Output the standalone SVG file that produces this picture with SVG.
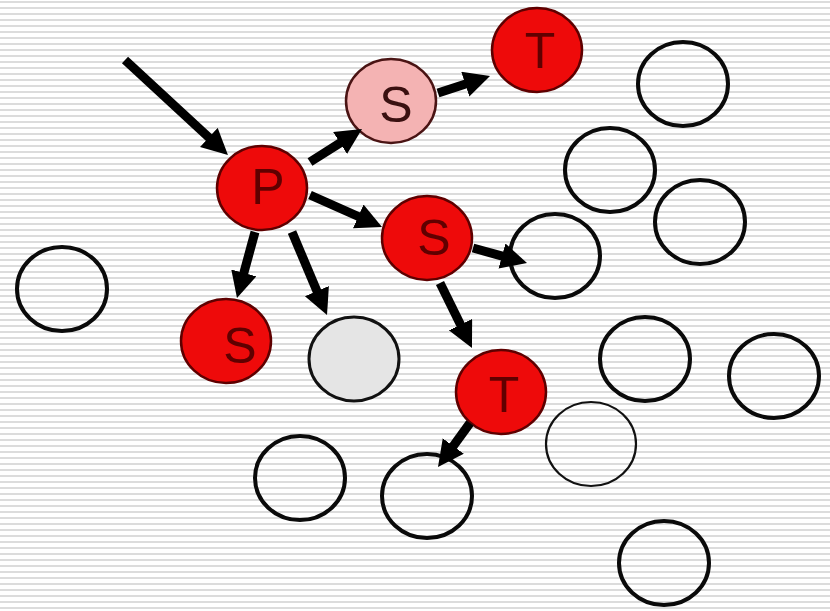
<svg xmlns="http://www.w3.org/2000/svg" width="830" height="611" viewBox="0 0 830 611">
  <style>
    .red { fill: #ee0a0a; stroke: #5e0000; stroke-width: 2.5; }
    .pink { fill: #f4b3b3; stroke: #4a1414; stroke-width: 2.5; }
    .grey { fill: #e5e5e5; stroke: #111; stroke-width: 3; }
    .empty { fill: none; stroke: #0a0a0a; stroke-width: 4; }
    .thin { fill: none; stroke: #111; stroke-width: 2.2; }
    .lbl { font-family: "Liberation Sans", Arial, sans-serif; font-size: 50px; text-anchor: middle; }
    .lbl-red { fill: #600000; }
    .lbl-pink { fill: #3a1010; }
    .edge { stroke: #000; stroke-width: 9; fill: none; marker-end: url(#head); }
  </style>
  <defs>
    <pattern id="stripes" width="830" height="6" patternUnits="userSpaceOnUse">
      <rect width="830" height="6" fill="#ffffff"/>
      <rect y="1" width="830" height="2" fill="#dcdcdc"/>
    </pattern>
    <marker id="head" markerUnits="userSpaceOnUse" markerWidth="28" markerHeight="28" refX="10" refY="13" orient="auto">
      <path d="M0,0 L26,13 L0,26 Z" fill="#000"/>
    </marker>
  </defs>

  <!-- striped backdrop -->
  <rect width="830" height="611" fill="url(#stripes)"/>

  <!-- unvisited vertices -->
  <g id="n-left"><ellipse class="empty" cx="62" cy="289" rx="45" ry="42"/></g>
  <g id="n-topright"><ellipse class="empty" cx="683" cy="84" rx="45" ry="42"/></g>
  <g id="n-r1"><ellipse class="empty" cx="610" cy="170" rx="45" ry="42"/></g>
  <g id="n-r2"><ellipse class="empty" cx="700" cy="222" rx="45" ry="42"/></g>
  <g id="n-mid"><ellipse class="empty" cx="555" cy="256" rx="45" ry="42"/></g>
  <g id="n-r3"><ellipse class="empty" cx="645" cy="359" rx="45" ry="42"/></g>
  <g id="n-r4"><ellipse class="empty" cx="774" cy="376" rx="45" ry="42"/></g>
  <g id="n-faint"><ellipse class="thin" cx="591" cy="444" rx="45" ry="42"/></g>
  <g id="n-b1"><ellipse class="empty" cx="300" cy="478" rx="45" ry="42"/></g>
  <g id="n-b2"><ellipse class="empty" cx="427" cy="496" rx="45" ry="42"/></g>
  <g id="n-b3"><ellipse class="empty" cx="664" cy="563" rx="45" ry="42"/></g>

  <!-- visited vertices -->
  <g id="n-grey"><ellipse class="grey" cx="354" cy="359" rx="45" ry="42"/></g>
  <g id="n-p">
    <ellipse class="red" cx="262" cy="188" rx="45" ry="42"/>
    <text class="lbl lbl-red" x="268" y="204">P</text>
  </g>
  <g id="n-s-pink">
    <ellipse class="pink" cx="391" cy="101" rx="45" ry="42"/>
    <text class="lbl lbl-pink" x="396" y="122">S</text>
  </g>
  <g id="n-t-top">
    <ellipse class="red" cx="537" cy="50" rx="45" ry="42"/>
    <text class="lbl lbl-red" x="540" y="68">T</text>
  </g>
  <g id="n-s-mid">
    <ellipse class="red" cx="427" cy="238" rx="45" ry="42"/>
    <text class="lbl lbl-red" x="434" y="255">S</text>
  </g>
  <g id="n-s-low">
    <ellipse class="red" cx="226" cy="341" rx="45" ry="42"/>
    <text class="lbl lbl-red" x="240" y="363">S</text>
  </g>
  <g id="n-t-mid">
    <ellipse class="red" cx="501" cy="392" rx="45" ry="42"/>
    <text class="lbl lbl-red" x="504" y="412">T</text>
  </g>

  <!-- connectors -->
  <g id="edges">
    <line class="edge" x1="125" y1="60" x2="216.2" y2="144.2"/>
    <line class="edge" x1="310" y1="162" x2="348.5" y2="137.6"/>
    <line class="edge" x1="438" y1="93" x2="474.8" y2="81"/>
    <line class="edge" x1="310" y1="195" x2="367.4" y2="220.5"/>
    <line class="edge" x1="255" y1="232" x2="241.2" y2="282.6"/>
    <line class="edge" x1="292" y1="232" x2="320.8" y2="300.3"/>
    <line class="edge" x1="473" y1="248" x2="511.6" y2="258.7"/>
    <line class="edge" x1="440" y1="283" x2="464.9" y2="333.6"/>
    <line class="edge" x1="470" y1="423" x2="447.4" y2="454.1"/>
  </g>
</svg>
